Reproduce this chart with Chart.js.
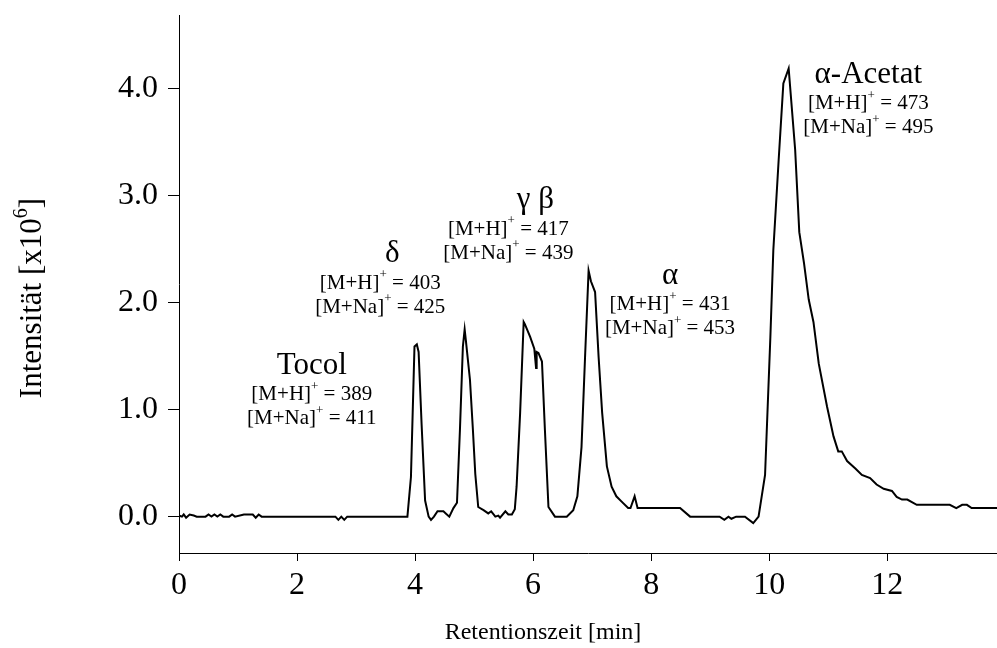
<!DOCTYPE html>
<html>
<head>
<meta charset="utf-8">
<script src="https://cdn.jsdelivr.net/npm/chart.js@4"></script>
<style>
  body { margin: 0; background: #fff; }
  #wrap { width: 997px; height: 648px; }
</style>
</head>
<body>
<div id="wrap"><canvas id="myChart"></canvas></div>
<script>
// retention time [min] and intensity [x10^6]
const times = [0, 0.05, 0.08, 0.12, 0.18, 0.25, 0.3, 0.45, 0.5, 0.55, 0.6, 0.65, 0.7, 0.75, 0.85, 0.9, 0.95,
    1.1, 1.25, 1.3, 1.35, 1.4, 2.65, 2.7, 2.75, 2.8, 2.85, 3.87, 3.93, 3.99, 4.03, 4.06, 4.11, 4.17, 4.23,
    4.27, 4.32, 4.38, 4.48, 4.52, 4.58, 4.65, 4.71, 4.76, 4.81, 4.84, 4.86, 4.93, 4.98, 5.02, 5.07, 5.16,
    5.24, 5.29, 5.36, 5.41, 5.44, 5.53, 5.58, 5.64, 5.69, 5.72, 5.78, 5.84, 5.86, 5.95, 6.02, 6.05, 6.06,
    6.09, 6.15, 6.2, 6.26, 6.37, 6.57, 6.68, 6.75, 6.82, 6.88, 6.94, 6.98, 7.05, 7.11, 7.17, 7.25, 7.33,
    7.41, 7.5, 7.61, 7.65, 7.72, 7.77, 8.49, 8.66, 9.16, 9.24, 9.31, 9.36, 9.44, 9.59, 9.73, 9.82, 9.93,
    10.02, 10.07, 10.16, 10.24, 10.33, 10.44, 10.51, 10.59, 10.67, 10.75, 10.84, 10.98, 11.09, 11.17,
    11.23, 11.32, 11.46, 11.57, 11.71, 11.82, 11.94, 12.08, 12.16, 12.25, 12.34, 12.5, 13.06, 13.17,
    13.27, 13.35, 13.43, 13.86];
const intensity = [0.01, 0, 0.02, -0.01, 0.02, 0.01, 0, 0, 0.02, 0, 0.02, 0, 0.02, 0, 0, 0.02, 0,
    0.02, 0.02, -0.01, 0.02, 0, 0, -0.03, 0, -0.03, 0, 0, 0.37, 1.59, 1.61, 1.54, 0.87, 0.15, 0,
    -0.03, 0, 0.05, 0.05, 0.03, 0, 0.08, 0.13, 0.81, 1.59, 1.75, 1.65, 1.28, 0.81, 0.4, 0.09, 0.06,
    0.03, 0.05, 0, 0.01, -0.01, 0.05, 0.02, 0.02, 0.07, 0.28, 0.97, 1.82, 1.8, 1.68, 1.57, 1.39, 1.54,
    1.53, 1.45, 0.81, 0.09, 0, 0, 0.06, 0.19, 0.65, 1.49, 2.3, 2.2, 2.1, 1.49, 0.97, 0.47, 0.28,
    0.19, 0.14, 0.08, 0.08, 0.19, 0.08, 0.08, 0, 0, -0.03, 0, -0.02, 0, 0, -0.06, 0, 0.39,
    1.68, 2.49, 3.33, 4.05, 4.19, 3.43, 2.66, 2.37, 2.03, 1.82, 1.43, 1.03, 0.75, 0.61,
    0.61, 0.52, 0.45, 0.39, 0.36, 0.3, 0.26, 0.24, 0.185, 0.16, 0.16, 0.11, 0.11, 0.08,
    0.11, 0.11, 0.08, 0.08];

const xTicks = [0, 2, 4, 6, 8, 10, 12];
const yTicks = [0, 1, 2, 3, 4];

// peak labels
const peakNames = ['Tocol', 'δ', 'γ β', 'α', 'α-Acetat'];
const mhIons = [389, 403, 417, 431, 473];
const mnaIons = [411, 425, 439, 453, 495];
// where the labels sit (data units), and how far the name is shifted right of the ion lines (px)
const labelX = [2.25, 3.41, 5.58, 8.32, 11.68];
const labelY = [1.41, 2.455, 2.96, 2.25, 4.13];
const nameShift = [0, 12, 27, 0, 0];

const serif = '"Liberation Serif", "Times New Roman", serif';

function drawIon(ctx, cx, cy, prefix, value, size) {
    const main = size + 'px ' + serif;
    const sup = Math.round(size * 0.62) + 'px ' + serif;
    const rest = ' = ' + value;
    ctx.font = main;
    const w1 = ctx.measureText(prefix).width;
    const w3 = ctx.measureText(rest).width;
    ctx.font = sup;
    const w2 = ctx.measureText('+').width;
    let x = cx - (w1 + w2 + w3) / 2;
    ctx.font = main;
    ctx.fillText(prefix, x, cy);
    x += w1;
    ctx.font = sup;
    ctx.fillText('+', x, cy - size * 0.38);
    x += w2;
    ctx.font = main;
    ctx.fillText(rest, x, cy);
}

const labelsPlugin = {
    id: 'peakLabels',
    afterDraw(chart) {
        const ctx = chart.ctx;
        const xs = chart.scales.x;
        const ys = chart.scales.y;
        ctx.save();
        ctx.fillStyle = '#000';
        ctx.textBaseline = 'middle';
        for (let i = 0; i < peakNames.length; i++) {
            const px = xs.getPixelForValue(labelX[i]);
            const py = ys.getPixelForValue(labelY[i]);
            ctx.textAlign = 'center';
            ctx.font = '31px ' + serif;
            ctx.fillText(peakNames[i], px + nameShift[i], py);
            ctx.textAlign = 'left';
            drawIon(ctx, px, py + 29, '[M+H]', mhIons[i], 21);
            drawIon(ctx, px, py + 53, '[M+Na]', mnaIons[i], 21);
        }

        // axis titles
        ctx.textAlign = 'center';
        ctx.font = '24px ' + serif;
        ctx.fillText('Retentionszeit [min]', 543, 633);

        ctx.translate(33, 298);
        ctx.rotate(-Math.PI / 2);
        const t1 = 'Intensität [x10';
        const t2 = '6';
        const t3 = ']';
        ctx.font = '31px ' + serif;
        const a = ctx.measureText(t1).width;
        const c = ctx.measureText(t3).width;
        ctx.font = '20px ' + serif;
        const b = ctx.measureText(t2).width;
        let x = -(a + b + c) / 2;
        ctx.textAlign = 'left';
        ctx.font = '31px ' + serif;
        ctx.fillText(t1, x, 0);
        ctx.font = '20px ' + serif;
        ctx.fillText(t2, x + a, -11);
        ctx.font = '31px ' + serif;
        ctx.fillText(t3, x + a + b, 0);
        ctx.restore();
    }
};

const points = times.map((t, i) => ({ x: t, y: intensity[i] }));

new Chart(document.getElementById('myChart'), {
    type: 'line',
    data: {
        datasets: [{
            data: points,
            borderColor: '#000',
            borderWidth: 2,
            pointRadius: 0,
            tension: 0,
            fill: false
        }]
    },
    options: {
        responsive: true,
        maintainAspectRatio: false,
        animation: false,
        layout: { padding: { top: 15, right: 0, left: 0, bottom: 0 } },
        plugins: { legend: { display: false }, tooltip: { enabled: false } },
        scales: {
            x: {
                type: 'linear',
                min: 0,
                max: 13.86,
                afterBuildTicks: s => { s.ticks = xTicks.map(v => ({ value: v })); },
                afterFit: s => { s.height = 95; s.paddingLeft = 0; s.paddingRight = 0; },
                border: { display: true, color: '#000', width: 1 },
                grid: { drawOnChartArea: false, drawTicks: true, tickLength: 8, color: '#000' },
                ticks: {
                    color: '#000',
                    padding: 5,
                    maxRotation: 0,
                    font: { family: serif, size: 32 },
                    callback: v => String(v)
                }
            },
            y: {
                type: 'linear',
                min: -0.34,
                max: 4.69,
                afterBuildTicks: s => { s.ticks = yTicks.map(v => ({ value: v })); },
                afterFit: s => { s.width = 179; s.paddingTop = 0; s.paddingBottom = 0; },
                border: { display: true, color: '#000', width: 1 },
                grid: { drawOnChartArea: false, drawTicks: true, tickLength: 11, color: '#000' },
                ticks: {
                    color: '#000',
                    padding: 10,
                    font: { family: serif, size: 32 },
                    callback: v => v.toFixed(1)
                }
            }
        }
    },
    plugins: [labelsPlugin]
});
</script>
</body>
</html>
